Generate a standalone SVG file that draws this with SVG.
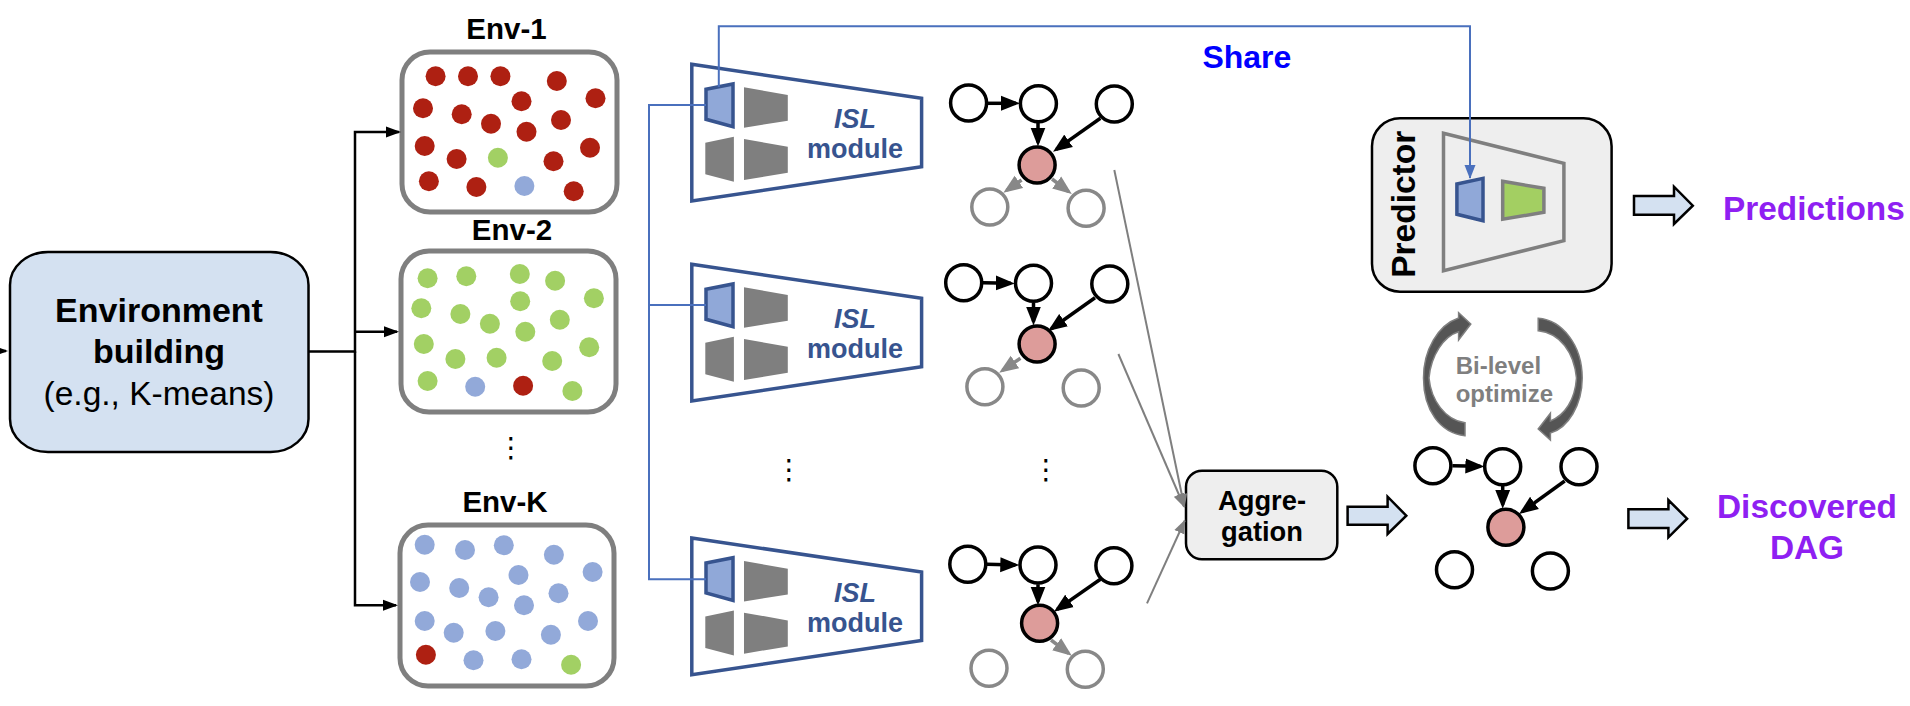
<svg xmlns="http://www.w3.org/2000/svg" width="1910" height="706" viewBox="0 0 1910 706">
<style>
text{font-family:"Liberation Sans",Arial,sans-serif;font-weight:bold;fill:#000}
.m{text-anchor:middle}
.env{fill:#fff;stroke:#7f7f7f;stroke-width:5}
.r{fill:#ae2012}.g{fill:#a2d064}.b{fill:#92a9d9}
.main{fill:#d4e1f1;stroke:#000;stroke-width:2.5}
.lite{fill:#eee;stroke:#000;stroke-width:2.5}
.isl{fill:#fff;stroke:#37548f;stroke-width:3.5;stroke-linejoin:miter}
.enc{fill:#90a8d8;stroke:#37548f;stroke-width:3.5}
.gray{fill:#7f7f7f}
.isl-t{fill:#37548f;font-size:27px;text-anchor:middle}
.n{fill:#fff;stroke:#000;stroke-width:3.5}
.n-red{fill:#dd9c9a;stroke:#000;stroke-width:3.5}
.n-gray{fill:#fff;stroke:#888;stroke-width:3.5}
.blk{fill:#d4e1f1;stroke:#000;stroke-width:2.5}
.pur{fill:#8f1ff2;font-size:33.4px}
.ek{fill:none;stroke:#000;stroke-width:2.5}
.ed{fill:none;stroke:#000;stroke-width:3.5}
.eg{fill:none;stroke:#888;stroke-width:3.5}
.thin{fill:none;stroke:#7f7f7f;stroke-width:2}
.sh{fill:none;stroke:#4a70bd;stroke-width:2}
.cur{fill:#555;stroke:#7f7f7f;stroke-width:1.5}
text.dots{font-family:"DejaVu Sans",sans-serif;font-weight:normal;font-size:28px;text-anchor:middle}
</style>
<defs>
<marker id="ah-k" markerUnits="userSpaceOnUse" markerWidth="18" markerHeight="12" refX="13" refY="6" orient="auto"><path d="M0,0.5L15,6L0,11.5z" fill="#000"/></marker>
<marker id="ah-d" markerUnits="userSpaceOnUse" markerWidth="22" markerHeight="16" refX="15" refY="8" orient="auto"><path d="M0,0.5L19,8L0,15.5z" fill="#000"/></marker>
<marker id="ah-g" markerUnits="userSpaceOnUse" markerWidth="22" markerHeight="16" refX="15" refY="8" orient="auto"><path d="M0,0.5L19,8L0,15.5z" fill="#888"/></marker>
<marker id="ah-t" markerUnits="userSpaceOnUse" markerWidth="16" markerHeight="12" refX="13" refY="6" orient="auto"><path d="M0,0.5L14,6L0,11.5z" fill="#7f7f7f"/></marker>
<marker id="ah-s" markerUnits="userSpaceOnUse" markerWidth="16" markerHeight="12" refX="13" refY="6" orient="auto"><path d="M0,0.5L14,6L0,11.5z" fill="#4a70bd"/></marker>
<g id="isl-shape">
<polygon class="isl" points="691.8,64.3 921.6,98.3 921.6,166.7 691.8,201"/>
<polygon class="enc" points="706,89.3 733,84 733,126.7 706,119.3"/>
<polygon class="gray" points="744,87.3 787.8,95 787.8,120.7 744,127.7"/>
<polygon class="gray" points="705.3,142.7 733.9,136.7 733.9,181.7 705.3,174.3"/>
<polygon class="gray" points="744,139 787.8,146.7 787.8,172.7 744,180"/>
</g>
</defs>

<g id="env-building">
<rect class="main" x="10" y="252" width="298.5" height="200" rx="38" ry="33"/>
<text class="m" x="159" y="321.7" font-size="34">Environment</text>
<text class="m" x="159" y="362.7" font-size="34">building</text>
<text class="m" x="159" y="405" font-size="33.5" style="font-weight:normal">(e.g., K-means)</text>
</g>

<g id="env-1">
<text class="m" x="506.500" y="39" font-size="29.5">Env-1</text>
<rect class="env" x="402" y="52" width="215" height="160" rx="28"/>
<g class="r"><circle cx="435.6" cy="76.3" r="10"/><circle cx="468" cy="76.3" r="10"/><circle cx="500.4" cy="76.3" r="10"/><circle cx="556.8" cy="81" r="10"/><circle cx="595.5" cy="98.3" r="10"/><circle cx="521.5" cy="101.3" r="10"/><circle cx="423" cy="108.3" r="10"/><circle cx="461.7" cy="114.3" r="10"/><circle cx="491" cy="123.7" r="10"/><circle cx="561" cy="120" r="10"/><circle cx="526.5" cy="131.7" r="10"/><circle cx="424.7" cy="146" r="10"/><circle cx="456.6" cy="159" r="10"/><circle cx="590" cy="147.7" r="10"/><circle cx="553.5" cy="161.3" r="10"/><circle cx="428.9" cy="181.3" r="10"/><circle cx="476.4" cy="187" r="10"/><circle cx="573.7" cy="191.3" r="10"/></g>
<circle class="g" cx="497.9" cy="157.7" r="10"/>
<circle class="b" cx="524.4" cy="186" r="10"/>
</g>

<g id="env-2">
<text class="m" x="512" y="240" font-size="29.5">Env-2</text>
<rect class="env" x="401" y="251" width="215" height="161" rx="28"/>
<g class="g"><circle cx="427.6" cy="278.3" r="10"/><circle cx="466.3" cy="276.3" r="10"/><circle cx="519.8" cy="274" r="10"/><circle cx="555.1" cy="280.7" r="10"/><circle cx="593.9" cy="298.3" r="10"/><circle cx="520.2" cy="301.3" r="10"/><circle cx="421.3" cy="308.3" r="10"/><circle cx="460.4" cy="314" r="10"/><circle cx="489.9" cy="323.7" r="10"/><circle cx="559.8" cy="319.7" r="10"/><circle cx="525.3" cy="331.7" r="10"/><circle cx="423.8" cy="344" r="10"/><circle cx="589.2" cy="347.3" r="10"/><circle cx="455.4" cy="359" r="10"/><circle cx="496.6" cy="357.7" r="10"/><circle cx="552.2" cy="361" r="10"/><circle cx="427.6" cy="381" r="10"/><circle cx="572.4" cy="391" r="10"/></g>
<circle class="b" cx="475.2" cy="386.7" r="10"/>
<circle class="r" cx="523.1" cy="385.7" r="10"/>
</g>

<text class="dots" x="511" y="457">⋮</text>

<g id="env-k">
<text class="m" x="505" y="512" font-size="29.5">Env-K</text>
<rect class="env" x="400" y="525" width="214" height="161" rx="28"/>
<g class="b"><circle cx="424.7" cy="544.7" r="10"/><circle cx="465" cy="550" r="10"/><circle cx="503.8" cy="545.3" r="10"/><circle cx="553.9" cy="554.7" r="10"/><circle cx="592.6" cy="572" r="10"/><circle cx="518.5" cy="575" r="10"/><circle cx="420" cy="582" r="10"/><circle cx="459.2" cy="588" r="10"/><circle cx="488.6" cy="597.3" r="10"/><circle cx="558.5" cy="593.3" r="10"/><circle cx="524" cy="605.3" r="10"/><circle cx="424.7" cy="621" r="10"/><circle cx="453.7" cy="632.7" r="10"/><circle cx="495.4" cy="631" r="10"/><circle cx="588" cy="621" r="10"/><circle cx="550.9" cy="634.7" r="10"/><circle cx="473.5" cy="660.3" r="10"/><circle cx="521.5" cy="659.3" r="10"/></g>
<circle class="r" cx="425.9" cy="654.7" r="10"/>
<circle class="g" cx="571.1" cy="664.7" r="10"/>
</g>

<g id="isl-1"><use href="#isl-shape"/><text class="isl-t" x="855" y="128.3" font-style="italic">ISL</text><text class="isl-t" x="855" y="158.3">module</text></g>
<g id="isl-2"><use href="#isl-shape" y="200"/><text class="isl-t" x="855" y="328.3" font-style="italic">ISL</text><text class="isl-t" x="855" y="358.3">module</text></g>
<g id="isl-3"><use href="#isl-shape" y="473.7"/><text class="isl-t" x="855" y="602" font-style="italic">ISL</text><text class="isl-t" x="855" y="632">module</text></g>
<text class="dots" x="789" y="479">⋮</text>
<text class="dots" x="1046" y="479">⋮</text>

<g id="dag-1">
<circle id="d1a" class="n" cx="968.6" cy="103" r="18"/><circle id="d1b" class="n" cx="1038.4" cy="103.7" r="18"/><circle id="d1c" class="n" cx="1114.3" cy="104" r="18"/><circle id="d1d" class="n-red" cx="1037.1" cy="165" r="18"/><circle id="d1e" class="n-gray" cx="989.8" cy="207" r="18"/><circle id="d1f" class="n-gray" cx="1086.1" cy="208.3" r="18"/>
</g>
<g id="dag-2">
<circle id="d2a" class="n" cx="963.7" cy="282.7" r="18"/><circle id="d2b" class="n" cx="1033.5" cy="283.3" r="18"/><circle id="d2c" class="n" cx="1109.8" cy="284" r="18"/><circle id="d2d" class="n-red" cx="1037.1" cy="344" r="18"/><circle id="d2e" class="n-gray" cx="984.9" cy="386.7" r="18"/><circle id="d2f" class="n-gray" cx="1081.2" cy="388" r="18"/>
</g>
<g id="dag-3">
<circle id="d3a" class="n" cx="967.8" cy="564.3" r="18"/><circle id="d3b" class="n" cx="1038" cy="565" r="18"/><circle id="d3c" class="n" cx="1113.9" cy="565.7" r="18"/><circle id="d3d" class="n-red" cx="1039.6" cy="623.3" r="18"/><circle id="d3e" class="n-gray" cx="989" cy="668.3" r="18"/><circle id="d3f" class="n-gray" cx="1085.3" cy="669.3" r="18"/>
</g>
<g id="dag-final">
<circle id="d4a" class="n" cx="1432.9" cy="465.7" r="18"/><circle id="d4b" class="n" cx="1502.7" cy="466.7" r="18"/><circle id="d4c" class="n" cx="1579" cy="466.7" r="18"/><circle id="d4d" class="n-red" cx="1505.9" cy="527.3" r="18"/><circle id="d4e" class="n" cx="1454.5" cy="569.7" r="18"/><circle id="d4f" class="n" cx="1550.4" cy="571" r="18"/>
</g>

<g id="aggregation">
<rect class="lite" x="1186" y="470.7" width="151.3" height="88.6" rx="16"/>
<text class="m" x="1262" y="510" font-size="27.3">Aggre-</text>
<text class="m" x="1262" y="541" font-size="27.3">gation</text>
</g>

<g id="predictor">
<rect class="lite" x="1372" y="118.3" width="239.6" height="173.4" rx="28"/>
<text class="m" transform="translate(1415,204.3) rotate(-90)" font-size="33.5">Predictor</text>
<polygon points="1443.5,133.3 1563.9,163.3 1563.9,240.7 1443.5,270.7" fill="none" stroke="#7f7f7f" stroke-width="3.5"/>
<polygon class="enc" points="1456.9,184 1483,178.3 1483,220.7 1456.9,214.3"/>
<polygon points="1502.7,181.3 1543.9,188.3 1543.9,212.3 1502.7,219.3" fill="#a3cf62" stroke="#7f7f7f" stroke-width="3.5"/>
</g>

<g id="share-label"><text x="1202.4" y="68.3" font-size="32" style="fill:#0000ff">Share</text></g>
<g id="predictions"><text class="pur" x="1723" y="220">Predictions</text></g>
<g id="discovered"><text class="pur m" x="1807" y="518.3">Discovered</text><text class="pur m" x="1807" y="559.3">DAG</text></g>
<g id="bilevel">
<text x="1455.7" y="374" font-size="24" style="fill:#7f7f7f">Bi-level</text>
<text x="1455.7" y="401.7" font-size="24" style="fill:#7f7f7f">optimize</text>
<path class="cur" d="M1465,435.7C1440,433 1423.5,410 1423.5,378C1423.5,350 1438,325 1458.6,318L1458.6,312.7L1470.8,324L1458.6,340L1458.6,331.7C1444,336 1431,355 1429,378C1431,400 1445,420 1465,422.7Z"/>
<path class="cur" d="M1538.2,318.3C1562,320 1582.2,345 1582.2,378C1582.2,405 1568,428 1550.4,433L1550.4,440L1538.2,429L1550.4,413.3L1550.4,421C1565,415 1575,400 1576.5,378C1574,352 1560,333 1538.2,330.7Z"/>
</g>

<g id="connectors">
<path class="ek" d="M0,351H6" marker-end="url(#ah-k)"/>
<path class="ek" d="M308.5,351.5H355V132H399" marker-end="url(#ah-k)"/>
<path class="ek" d="M355,331.7H397" marker-end="url(#ah-k)"/>
<path class="ek" d="M355,351.5V605.3H396" marker-end="url(#ah-k)"/>

<path class="sh" d="M706,105H649V579.3H706"/>
<path class="sh" d="M649,305H706"/>
<path class="sh" d="M718.8,87V26.3H1470V178" marker-end="url(#ah-s)"/>

<path class="ed" d="M987.8,103.3H1016" marker-end="url(#ah-d)"/>
<path class="ed" d="M1038,123V142.500" marker-end="url(#ah-d)"/>
<path class="ed" d="M1100.4,118.3L1056.3,149.4" marker-end="url(#ah-d)"/>
<path class="eg" d="M1021.6,180L1006.6,190.4" marker-end="url(#ah-g)"/>
<path class="eg" d="M1052,179L1068.6,191.6" marker-end="url(#ah-g)"/>

<path class="ed" d="M982.9,282.7L1010.800,283.300" marker-end="url(#ah-d)"/>
<path class="ed" d="M1033.5,302.7V321.5" marker-end="url(#ah-d)"/>
<path class="ed" d="M1095,297.7L1051.3,328.7" marker-end="url(#ah-d)"/>
<path class="eg" d="M1020.4,358.3L1002.5,370.4" marker-end="url(#ah-g)"/>

<path class="ed" d="M987,564.3L1015.300,565" marker-end="url(#ah-d)"/>
<path class="ed" d="M1038,584.3V601.5" marker-end="url(#ah-d)"/>
<path class="ed" d="M1100.4,579.3L1057.2,609.4" marker-end="url(#ah-d)"/>
<path class="eg" d="M1051,640L1068.6,653.3" marker-end="url(#ah-g)"/>

<path class="ed" d="M1452.4,465.7L1480.400,466.300" marker-end="url(#ah-d)"/>
<path class="ed" d="M1502.7,485.7V504.8" marker-end="url(#ah-d)"/>
<path class="ed" d="M1564.7,481L1522.3,511.6" marker-end="url(#ah-d)"/>

<path class="thin" d="M1114.3,170L1184.4,507" marker-end="url(#ah-t)"/>
<path class="thin" d="M1118.4,354L1184,506.500" marker-end="url(#ah-t)"/>
<path class="thin" d="M1147,603.3L1184.800,520.500" marker-end="url(#ah-t)"/>

<polygon class="blk" points="1634,196 1674,196 1674,186.7 1692.8,205.7 1674,224 1674,214.700 1634,214.700"/>
<polygon class="blk" points="1347.6,506.7 1387.6,506.7 1387.6,496.7 1406.3,515.7 1387.6,534 1387.6,524.700 1347.6,524.700"/>
<polygon class="blk" points="1628.4,509.3 1668.4,509.3 1668.4,500 1687.1,518.7 1668.4,537.3 1668.4,528 1628.4,528"/>
</g>
</svg>
